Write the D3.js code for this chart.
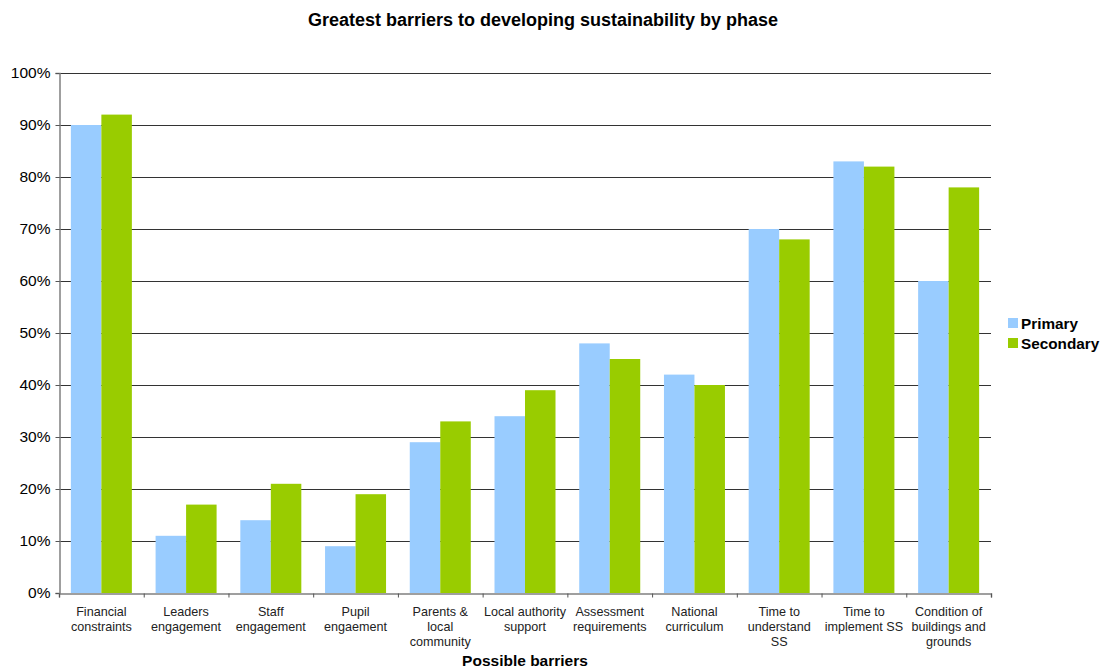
<!DOCTYPE html>
<html><head><meta charset="utf-8">
<script src="https://cdn.jsdelivr.net/npm/d3@7"></script>
<style>body{margin:0;background:#fff;} svg{display:block;font-family:"Liberation Sans",Arial,sans-serif;}</style>
</head><body>
<script>
const categories = [["Financial","constraints"],["Leaders","engagement"],["Staff","engagement"],["Pupil","engaement"],["Parents &","local","community"],["Local authority","support"],["Assessment","requirements"],["National","curriculum"],["Time to","understand","SS"],["Time to","implement SS"],["Condition of","buildings and","grounds"]];
const primary = [90,11,14,9,29,34,48,42,70,83,60];
const secondary = [92,17,21,19,33,39,45,40,68,82,78];
const seriesNames = ["Primary","Secondary"];
const colors = ["#99ccff","#99cc00"];
const yTicks = [0,10,20,30,40,50,60,70,80,90,100];

const W=1101,H=669;
const m={l:59,r:991,t:73,b:593};
const svg=d3.select("body").append("svg").attr("width",W).attr("height",H);
const idx=d3.range(categories.length);
const x=d3.scaleBand().domain(idx).range([m.l,m.r]).paddingInner(0.28).paddingOuter(0.14);
const xs=d3.scaleBand().domain([0,1]).range([0,x.bandwidth()]);
const y=d3.scaleLinear().domain([0,100]).range([m.b,m.t]);

// gridlines
svg.append("g").selectAll("line").data(yTicks.filter(d=>d>0)).join("line")
 .attr("x1",m.l).attr("x2",m.r).attr("y1",d=>y(d)+0.5).attr("y2",d=>y(d)+0.5)
 .attr("stroke","#333").attr("stroke-width",1);

// bars
const data=[primary,secondary];
data.forEach((arr,si)=>{
  svg.append("g").selectAll("rect").data(arr).join("rect")
   .attr("x",(d,i)=>x(i)+xs(si)).attr("width",xs.bandwidth())
   .attr("y",d=>y(d)).attr("height",d=>y(0)-y(d)).attr("fill",colors[si]);
});

// y axis
const ya=svg.append("g").attr("transform",`translate(${m.l+0.5},0)`)
 .call(d3.axisLeft(y).tickValues(yTicks).tickFormat(d=>d+"%").tickSize(4).tickPadding(5));
ya.select(".domain").attr("stroke","#808080").attr("stroke-width",1.5);
ya.selectAll(".tick line").attr("stroke","#555");
ya.selectAll("text").attr("font-size","15.5px").attr("fill","#000").attr("font-family","Liberation Sans, Arial, sans-serif");

// x axis
const xb=d3.scaleLinear().domain([0,categories.length]).range([m.l,m.r]);
const xa=svg.append("g").attr("transform",`translate(0,${m.b+0.5})`)
 .call(d3.axisBottom(xb).tickValues(d3.range(categories.length+1)).tickSize(4).tickFormat(""));
xa.select(".domain").attr("stroke","#808080").attr("stroke-width",1.5);
xa.selectAll(".tick line").attr("stroke","#555");

const lbl=svg.append("g");
categories.forEach((lines,i)=>{
  const t=lbl.append("text").attr("x",x(i)+x.bandwidth()/2).attr("y",616)
   .attr("text-anchor","middle").attr("font-size","12.6px").attr("fill","#222");
  lines.forEach((s,j)=>t.append("tspan").attr("x",x(i)+x.bandwidth()/2).attr("dy",j?15:0).text(s));
});

svg.append("text").attr("x",(m.l+m.r)/2).attr("y",666).attr("text-anchor","middle")
 .attr("font-size","15.5px").attr("font-weight","bold").text("Possible barriers");
svg.append("text").attr("x",543).attr("y",26).attr("text-anchor","middle")
 .attr("font-size","18px").attr("font-weight","bold").text("Greatest barriers to developing sustainability by phase");

// legend
const lg=svg.append("g");
seriesNames.forEach((n,i)=>{
  lg.append("rect").attr("x",1008).attr("y",318+i*20).attr("width",10).attr("height",10).attr("fill",colors[i]);
  lg.append("text").attr("x",1021).attr("y",328.5+i*20).attr("font-size","15.3px").attr("font-weight","bold").text(n);
});
</script>
</body></html>
